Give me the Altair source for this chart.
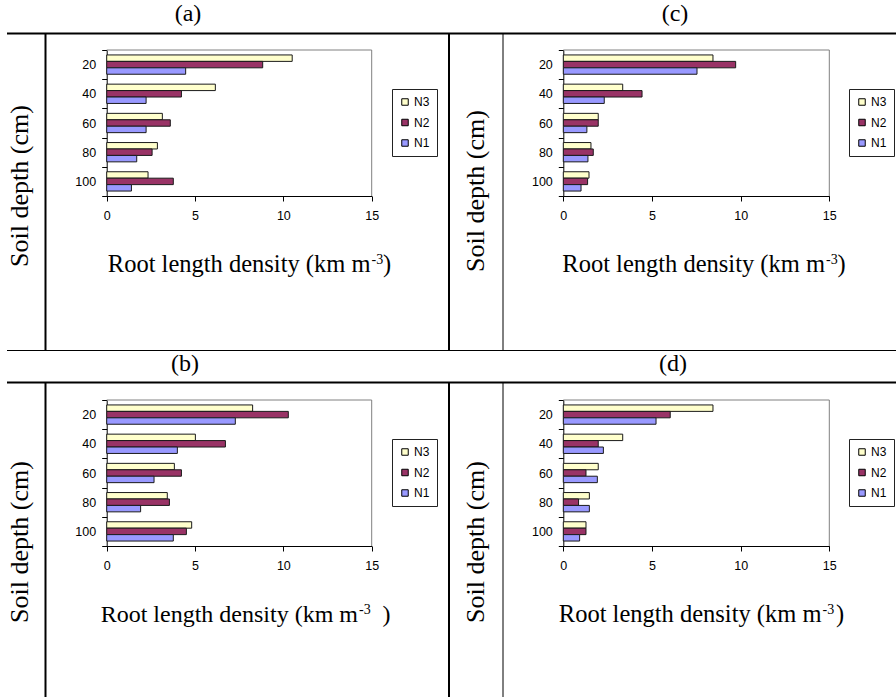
import altair as alt
import pandas as pd

# ---------------------------------------------------------------- data
DEPTHS = ["20", "40", "60", "80", "100"]          # soil depth (cm)
LEVELS = ["N3", "N2", "N1"]                       # nitrogen treatments
COLORS = ["#FFFFCC", "#993366", "#9999FF"]
X_TICKS = [0, 5, 10, 15]

# root length density (km m-3) per depth, one list per treatment
A_N3 = [10.5, 6.15, 3.15, 2.87, 2.34]
A_N2 = [8.83, 4.23, 3.60, 2.57, 3.77]
A_N1 = [4.47, 2.23, 2.23, 1.70, 1.40]

B_N3 = [8.26, 5.02, 3.83, 3.43, 4.81]
B_N2 = [10.28, 6.72, 4.23, 3.55, 4.51]
B_N1 = [7.28, 4.00, 2.68, 1.92, 3.77]

C_N3 = [8.44, 3.35, 1.97, 1.56, 1.45]
C_N2 = [9.72, 4.44, 1.97, 1.69, 1.37]
C_N1 = [7.54, 2.31, 1.33, 1.39, 1.00]

D_N3 = [8.44, 3.35, 1.97, 1.47, 1.28]
D_N2 = [6.03, 1.97, 1.28, 0.86, 1.28]
D_N1 = [5.23, 2.26, 1.92, 1.47, 0.92]

PANEL_DATA = {
    "a": (A_N3, A_N2, A_N1),
    "b": (B_N3, B_N2, B_N1),
    "c": (C_N3, C_N2, C_N1),
    "d": (D_N3, D_N2, D_N1),
}

# ---------------------------------------------------------------- layout
W, H = 896, 697
# plot area of each panel on the page: x of 0, x of 15, top, bottom
GEOM = {
    "a": (106.7, 371.7, 50, 196),
    "c": (563.3, 829.3, 50, 196),
    "b": (106.7, 371.7, 400, 546),
    "d": (563.3, 829.3, 400, 546),
}
# legend box top-left corner of each panel
LEGEND_POS = {"a": (392, 89), "c": (849, 89), "b": (392, 439), "d": (849, 439)}
# x-title pieces: (right end of main text, superscript x, ")" x, baseline, font size)
XTITLE_POS = {
    "a": (370.5, 371.5, 383.0, 271.5, 24.5),
    "c": (825.0, 826.0, 837.5, 271.5, 24.5),
    "b": (358.0, 359.0, 382.5, 621.5, 24.0),
    "d": (821.5, 822.5, 836.0, 621.5, 24.5),
}
# panel letters (centre x, centre y) and rotated y-titles (centre x, centre y)
LETTER_POS = {"a": (188, 14), "c": (675, 14), "b": (185, 364), "d": (673, 364)}
YTITLE_POS = {"a": (20, 186), "c": (476, 191), "b": (20, 542), "d": (476, 542)}

SERIF = "Liberation Serif"
SANS = "Liberation Sans"


def long_table(key):
    rows = []
    for level, values in zip(LEVELS, PANEL_DATA[key]):
        for depth, v in zip(DEPTHS, values):
            rows.append({"depth": depth, "level": level, "rld": v})
    return pd.DataFrame(rows)


def panel(key):
    x0, x1, top, bot = GEOM[key]
    step = (bot - top) / len(DEPTHS)
    lx, ly = LEGEND_POS[key]
    return alt.Chart(long_table(key)).mark_bar(
        stroke="#1a1a1a", strokeWidth=1
    ).encode(
        x=alt.X(
            "rld:Q",
            scale=alt.Scale(domain=[0, 15], range=[x0, x1], nice=False),
            axis=alt.Axis(
                orient="bottom", offset=bot - H, values=X_TICKS, title=None,
                grid=False, domainColor="black", tickColor="black", tickSize=5,
                labelFont=SANS, labelFontSize=12.5, labelColor="black",
                labelPadding=8.5, labelFlush=False,
            ),
        ),
        y=alt.Y(
            "depth:N",
            sort=DEPTHS,
            scale=alt.Scale(range=[top, bot], paddingInner=0, paddingOuter=0),
            axis=alt.Axis(
                orient="left", offset=-x0, title=None, tickBand="extent",
                domainColor="black", tickColor="black", tickSize=5,
                labelFont=SANS, labelFontSize=12.5, labelColor="black",
                labelPadding=6,
            ),
        ),
        yOffset=alt.YOffset(
            "level:N",
            sort=LEVELS,
            scale=alt.Scale(range=[0, step], paddingInner=0, paddingOuter=0.77),
        ),
        color=alt.Color(
            "level:N",
            sort=LEVELS,
            scale=alt.Scale(domain=LEVELS, range=COLORS),
            legend=alt.Legend(
                orient="none", legendX=lx, legendY=ly, title=None,
                strokeColor="#222222", fillColor="white", padding=7,
                symbolType="square", symbolSize=42, symbolStrokeColor="black",
                symbolStrokeWidth=1, labelFont=SANS, labelFontSize=12,
                labelColor="black", rowPadding=8.5, labelOffset=3,
            ),
        ),
    )


# frame lines: plot borders (grey) and the table rules around the panels
frame_rows = []
for key, (x0, x1, top, bot) in GEOM.items():
    frame_rows.append({"x": x0, "x2": x1, "y": top, "y2": top, "w": 1, "c": "#808080"})
    frame_rows.append({"x": x1, "x2": x1, "y": top, "y2": bot, "w": 1, "c": "#808080"})
for y, w in [(33.5, 2), (350.5, 1), (382.5, 2)]:
    frame_rows.append({"x": 7, "x2": W, "y": y, "y2": y, "w": w, "c": "black"})
for x, w in [(45.5, 2), (449.0, 2), (503.0, 1)]:
    for y1, y2 in [(33.5, 350.5), (382.5, H)]:
        frame_rows.append({"x": x, "x2": x, "y": y1, "y2": y2, "w": w, "c": "black"})
frames = alt.Chart(pd.DataFrame(frame_rows)).mark_rule().encode(
    x=alt.X("x:Q", scale=None, axis=None),
    x2="x2:Q",
    y=alt.Y("y:Q", scale=None, axis=None),
    y2="y2:Q",
    strokeWidth=alt.StrokeWidth("w:Q", scale=None, legend=None),
    color=alt.Color("c:N", scale=None, legend=None),
)


def text_layer(rows, **mark):
    enc = dict(
        x=alt.X("x:Q", scale=None, axis=None),
        y=alt.Y("y:Q", scale=None, axis=None),
        text="t:N",
    )
    if "s" in rows[0]:
        enc["size"] = alt.Size("s:Q", scale=None, legend=None)
    return alt.Chart(pd.DataFrame(rows)).mark_text(color="black", **mark).encode(**enc)


letters = text_layer(
    [{"t": f"({k})", "x": p[0], "y": p[1]} for k, p in LETTER_POS.items()],
    font=SERIF, fontSize=24, align="center", baseline="middle",
)
xtitle_main = text_layer(
    [{"t": "Root length density (km m", "x": p[0], "y": p[3], "s": p[4]}
     for p in XTITLE_POS.values()],
    font=SERIF, align="right", baseline="alphabetic",
)
xtitle_sup = text_layer(
    [{"t": "-3", "x": p[1], "y": p[3] - 8} for p in XTITLE_POS.values()],
    font=SERIF, fontSize=14, align="left", baseline="alphabetic",
)
xtitle_close = text_layer(
    [{"t": ")", "x": p[2], "y": p[3], "s": p[4]} for p in XTITLE_POS.values()],
    font=SERIF, align="left", baseline="alphabetic",
)
ytitles = text_layer(
    [{"t": "Soil depth (cm)", "x": p[0], "y": p[1]} for p in YTITLE_POS.values()],
    font=SERIF, fontSize=26, align="center", baseline="middle", angle=270,
)

chart = alt.layer(
    panel("a"), panel("c"), panel("b"), panel("d"),
    frames, letters, xtitle_main, xtitle_sup, xtitle_close, ytitles,
).resolve_scale(
    x="independent", y="independent", yOffset="independent", color="independent"
).resolve_axis(
    x="independent", y="independent"
).resolve_legend(
    color="independent"
).properties(
    width=W, height=H, padding=0,
    autosize=alt.AutoSizeParams(type="none"),
    background="white",
).configure_view(stroke=None)

chart.save("out.html", embed_options={"renderer": "svg", "actions": False})
